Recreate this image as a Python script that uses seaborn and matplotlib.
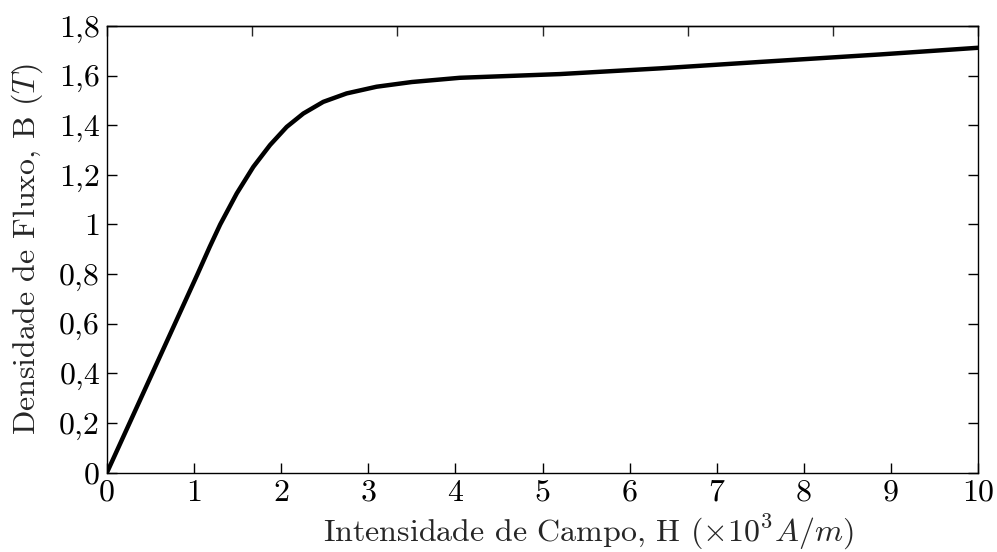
import numpy as np
import pandas as pd
import matplotlib
matplotlib.use("Agg")
import matplotlib.pyplot as plt
import seaborn as sns

# B-H curve
H = [0, 0.26, 0.52, 0.78, 1.04, 1.18, 1.3, 1.49, 1.68, 1.872, 2.063, 2.254,
     2.483, 2.751, 3.095, 3.5, 4.05, 5.2, 6.35, 7.5, 8.87, 10]
B = [0, 0.2, 0.4, 0.6, 0.8, 0.91, 1.0, 1.125, 1.232, 1.32, 1.393, 1.447,
     1.494, 1.528, 1.555, 1.574, 1.591, 1.606, 1.629, 1.655, 1.685, 1.712]

x_ticks = [0, 1, 2, 3, 4, 5, 6, 7, 8, 9, 10]
y_ticks = [0, 0.2, 0.4, 0.6, 0.8, 1.0, 1.2, 1.4, 1.6, 1.8]
y_labels = ['0', '0,2', '0,4', '0,6', '0,8', '1', '1,2', '1,4', '1,6', '1,8']

sns.set_style('ticks')
plt.rcParams['font.family'] = ['cmr10', 'DejaVu Serif']
plt.rcParams['mathtext.fontset'] = 'cm'
plt.rcParams['axes.unicode_minus'] = False

df = pd.DataFrame({'H': H, 'B': B})

fig, ax = plt.subplots(figsize=(9.97, 5.52), dpi=100)
fig.subplots_adjust(left=0.1073, right=0.981, top=0.953, bottom=0.144)

sns.lineplot(data=df, x='H', y='B', color='black', linewidth=3.2, ax=ax)

ax.set_xlim(0, 10)
ax.set_ylim(0, 1.8)
ax.set_xticks(x_ticks)
ax.set_xticklabels([str(t) for t in x_ticks])
ax.set_yticks(y_ticks)
ax.set_yticklabels(y_labels)
ax.tick_params(direction='in', length=7, width=1, labelsize=23, pad=5,
               right=True, colors='black')

# top axis has its own tick spacing in the original
top = ax.secondary_xaxis('top')
top.set_xticks(np.linspace(0, 10, 7))
top.set_xticklabels([])
top.tick_params(direction='in', length=7, width=1)

for sp in ax.spines.values():
    sp.set_linewidth(1.0)
    sp.set_color('black')
top.spines['top'].set_linewidth(1.0)

ax.set_xlabel(r'Intensidade de Campo, H ($\times10^3A/m$)', fontsize=23)
ax.set_ylabel(r'Densidade de Fluxo, B ($T$)', fontsize=23, labelpad=10)
# label in the original sits right of centre
ax.xaxis.set_label_coords(0.553, -0.09, transform=ax.transAxes)
ax.xaxis.label.set_va('top')

plt.savefig('out.png', dpi=100)
